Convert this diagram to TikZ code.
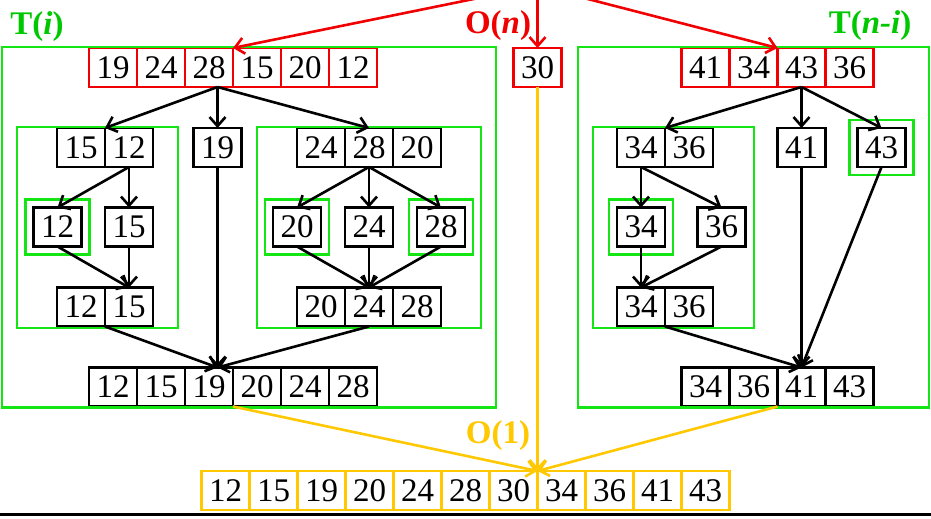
\documentclass[tikz,border=0pt]{standalone}
\usepackage{fontspec}
\setmainfont{Liberation Serif}
\usetikzlibrary{arrows.meta,fit}
\definecolor{framegreen}{RGB}{20,230,20}
\definecolor{labelgreen}{RGB}{0,200,0}
\definecolor{splitred}{RGB}{240,0,0}
\definecolor{mergegold}{RGB}{255,200,0}

\begin{document}
\begin{tikzpicture}[x=0.5pt,y=-0.5pt,->,>={Straight Barb[length=4.5pt,width=8pt]},line width=1.3pt,node distance=24pt,
	cell/.style={draw=black,minimum width=24pt,minimum height=19.5pt,inner sep=0pt,outer sep=0pt,font=\fontsize{16.5}{19}\selectfont},
	redcell/.style={cell,draw=splitred},
	goldcell/.style={cell,draw=mergegold},
	frame/.style={-,draw=framegreen,line width=1.2pt},
	wrap/.style={frame,inner sep=4pt},
	cost/.style={font=\fontsize{16.5}{19}\selectfont\bfseries}]
	
	\useasboundingbox (0,0) rectangle (931,519);
	
	% input and pivot
	\node[redcell] (L1) at (113,67.5) {19};
	\node[redcell] (L2) [right of=L1] {24};
	\node[redcell] (L3) [right of=L2] {28};
	\node[redcell] (L4) [right of=L3] {15};
	\node[redcell] (L5) [right of=L4] {20};
	\node[redcell] (L6) [right of=L5] {12};
	\node[redcell] (P) at (537.5,67.5) {30};
	\node[redcell] (R1) at (705.5,67.5) {41};
	\node[redcell] (R2) [right of=R1] {34};
	\node[redcell] (R3) [right of=R2] {43};
	\node[redcell] (R4) [right of=R3] {36};
	
	% left part
	\node[cell] (LA1) at (81,147.5) {15};
	\node[cell] (LA2) [right of=LA1] {12};
	\node[cell] (L19) at (217.5,147.5) {19};
	\node[cell] (LB1) at (321,147.5) {24};
	\node[cell] (LB2) [right of=LB1] {28};
	\node[cell] (LB3) [right of=LB2] {20};
	\node[cell] (LA12) at (57.5,227) {12};
	\node[cell] (LA15) at (129,227) {15};
	\node[cell] (LB20) at (297,227) {20};
	\node[cell] (LB24) at (369,227) {24};
	\node[cell] (LB28) at (441,227) {28};
	\node[cell] (LAout1) at (81,307) {12};
	\node[cell] (LAout2) [right of=LAout1] {15};
	\node[cell] (LBout1) at (321,307) {20};
	\node[cell] (LBout2) [right of=LBout1] {24};
	\node[cell] (LBout3) [right of=LBout2] {28};
	\node[cell] (LO1) at (113,387) {12};
	\node[cell] (LO2) [right of=LO1] {15};
	\node[cell] (LO3) [right of=LO2] {19};
	\node[cell] (LO4) [right of=LO3] {20};
	\node[cell] (LO5) [right of=LO4] {24};
	\node[cell] (LO6) [right of=LO5] {28};
	
	% right part
	\node[cell] (RA1) at (641,147.5) {34};
	\node[cell] (RA2) [right of=RA1] {36};
	\node[cell] (R41) at (801.5,147.5) {41};
	\node[cell] (R43) at (881.5,147.5) {43};
	\node[cell] (RA34) at (641,227) {34};
	\node[cell] (RA36) at (721.5,227) {36};
	\node[cell] (RAout1) at (641,307) {34};
	\node[cell] (RAout2) [right of=RAout1] {36};
	\node[cell] (RO1) at (705.5,387) {34};
	\node[cell] (RO2) [right of=RO1] {36};
	\node[cell] (RO3) [right of=RO2] {41};
	\node[cell] (RO4) [right of=RO3] {43};
	
	% result
	\node[goldcell] (F1) at (225.5,490.5) {12};
	\node[goldcell] (F2) [right of=F1] {15};
	\node[goldcell] (F3) [right of=F2] {19};
	\node[goldcell] (F4) [right of=F3] {20};
	\node[goldcell] (F5) [right of=F4] {24};
	\node[goldcell] (F6) [right of=F5] {28};
	\node[goldcell] (F7) [right of=F6] {30};
	\node[goldcell] (F8) [right of=F7] {34};
	\node[goldcell] (F9) [right of=F8] {36};
	\node[goldcell] (F10) [right of=F9] {41};
	\node[goldcell] (F11) [right of=F10] {43};
	
	% green frames
	\draw[frame] (2,47) rectangle (496,407.5);
	\draw[frame] (17,127) rectangle (178,328);
	\draw[frame] (257,127) rectangle (481,328);
	\draw[frame] (578,47) rectangle (929,407.5);
	\draw[frame] (593,127) rectangle (754,328);
	\node[wrap,fit=(LA12)] (wLA12) {};
	\node[wrap,fit=(LB20)] (wLB20) {};
	\node[wrap,fit=(LB28)] (wLB28) {};
	\node[wrap,fit=(RA34)] (wRA34) {};
	\node[wrap,fit=(R43)] (wR43) {};
	
	% costs
	\node[cost,text=labelgreen] (costL) at (37,27) {T(\textit{i})};
	\node[cost,text=splitred] (costP) at (498,26) {O(\textit{n})};
	\node[cost,text=labelgreen] (costR) at (870,26) {T(\textit{n-i})};
	\node[cost,text=mergegold] (costF) at (498,436) {O(1)};
	
	\coordinate (src) at (537.5,-14);
	\coordinate (Lsplit) at (L3.south -| L19.north);
	\coordinate (Lmerge) at (LO3.north -| L19.south);
	
	\path[splitred]
	(src) edge (L3.north east)
	(src) edge (P.north)
	(src) edge (R2.north east);
	
	\path
	(Lsplit) edge (LA1.north east)
	(Lsplit) edge (L19.north)
	(Lsplit) edge (LB2.north)
	(LA2.south) edge (LA12.north)
	(LA2.south) edge (LA15.north)
	(LA12.south) edge (LAout2.north)
	(LA15.south) edge (LAout2.north)
	(LB2.south) edge (LB20.north)
	(LB2.south) edge (LB24.north)
	(LB2.south) edge (LB28.north)
	(LB20.south) edge (LBout2.north)
	(LB24.south) edge (LBout2.north)
	(LB28.south) edge (LBout2.north)
	(LAout1.south east) edge (Lmerge)
	(L19.south) edge (Lmerge)
	(LBout2.south) edge (Lmerge)
	;
	
	\path
	(R3.south) edge (RA1.north east)
	(R3.south) edge (R41.north)
	(R3.south) edge (R43.north)
	(RA1.south) edge (RA34.north)
	(RA1.south) edge (RA36.north)
	(RA34.south) edge (RAout1.north)
	(RA36.south) edge (RAout1.north)
	(RAout1.south east) edge (RO3.north)
	(R41.south) edge (RO3.north)
	(R43.south) edge (RO3.north)
	;
	
	\path[mergegold]
	(P.south) edge (F7.north east)
	(LO3.south east) edge (F7.north east)
	(RO2.south east) edge (F7.north east);
	
	\draw[-,line width=1.5pt] (0,514) -- (931,514);
\end{tikzpicture}
\end{document}
